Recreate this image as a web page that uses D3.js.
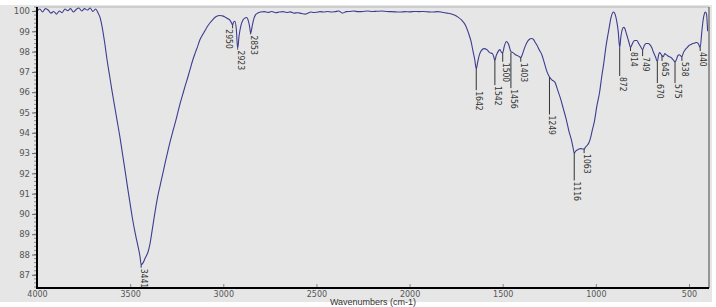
<!DOCTYPE html>
<html><head><meta charset="utf-8">
<script src="https://cdn.jsdelivr.net/npm/d3@7"></script>
<style>body{margin:0;background:#fff}svg{display:block}</style>
</head><body>
<svg id="c" width="716" height="307"></svg>
<script>
// Spectrum: wavenumber (cm-1) and %Transmittance
const wavenumbers = [4000,3985,3970,3955,3940,3925,3910,3895,3880,3865,3850,3835,3820,3805,3790,3775,3760,3745,3730,3715,3700,3685,3672,3662,3650,3636,3624,3610,3598,3585,3570,3555,3540,3525,3512,3500,3488,3474,3460,3447,3441,3430,3418,3405,3394,3380,3365,3350,3340,3325,3310,3300,3286,3270,3255,3240,3233,3220,3205,3190,3179,3165,3150,3140,3126,3110,3100,3088,3072,3056,3040,3018,3000,2990,2975,2965,2955,2950,2945,2938,2930,2923,2915,2905,2895,2885,2875,2865,2858,2853,2846,2838,2828,2815,2800,2780,2760,2740,2720,2700,2680,2660,2640,2620,2600,2580,2560,2545,2530,2515,2500,2480,2460,2440,2420,2400,2380,2360,2340,2320,2300,2275,2250,2225,2200,2175,2150,2125,2100,2075,2050,2025,2000,1975,1950,1925,1900,1875,1850,1825,1800,1780,1760,1740,1720,1700,1685,1670,1660,1650,1642,1635,1625,1615,1600,1585,1570,1555,1548,1542,1535,1525,1515,1505,1500,1492,1480,1468,1456,1445,1432,1420,1410,1403,1395,1382,1370,1358,1345,1335,1325,1315,1305,1290,1275,1262,1249,1235,1220,1205,1190,1175,1160,1145,1130,1122,1116,1108,1100,1090,1080,1070,1063,1055,1045,1038,1030,1020,1007,995,980,968,958,945,930,918,905,897,888,880,872,866,858,850,845,838,830,822,814,806,798,790,780,770,760,749,740,730,720,710,700,690,680,670,664,658,652,645,638,630,622,615,605,595,585,575,568,560,552,545,538,530,520,510,500,490,480,470,460,450,440,432,425,418,412,406,400];
const transmittance = [100.0,100.1,99.95,100.12,100.05,99.9,99.98,99.85,100.0,99.92,100.1,100.02,100.12,99.95,100.08,100.15,100.0,100.12,100.05,100.15,99.98,100.1,99.9,99.7,99.2,98.4,97.6,96.8,96.1,95.4,94.6,93.8,92.9,92.0,91.2,90.5,89.8,89.1,88.5,87.9,87.5,87.6,87.85,88.1,88.5,89.3,90.18,90.95,91.36,91.98,92.6,93.0,93.54,94.1,94.6,95.15,95.4,95.82,96.3,96.75,97.1,97.55,97.95,98.2,98.57,98.85,99.0,99.2,99.41,99.58,99.72,99.78,99.75,99.7,99.62,99.55,99.4,99.3,99.45,99.5,99.1,98.15,98.8,99.3,99.55,99.65,99.68,99.5,99.2,98.9,99.2,99.55,99.8,99.9,99.95,99.97,99.93,99.98,99.92,99.95,99.97,99.93,99.96,99.9,99.92,99.88,99.85,99.9,99.95,99.93,99.94,99.97,99.95,99.98,99.95,99.97,100.0,99.9,99.97,99.98,100.0,99.97,99.98,100.0,99.98,99.99,100.0,99.98,99.97,99.96,99.95,99.97,99.96,99.98,99.97,99.98,99.96,99.95,99.97,99.94,99.9,99.87,99.8,99.7,99.55,99.3,98.95,98.5,98.05,97.6,97.15,97.45,97.85,98.05,98.15,98.1,97.95,97.9,97.75,97.55,97.8,98.0,98.1,97.95,97.95,98.25,98.5,98.35,98.0,97.95,97.85,97.8,97.75,97.7,97.85,98.2,98.45,98.6,98.65,98.6,98.45,98.3,98.1,97.85,97.4,97.0,96.75,96.6,96.5,96.1,95.7,95.2,94.7,94.1,93.6,93.25,93.0,93.1,93.15,93.2,93.22,93.2,93.2,93.3,93.4,93.5,93.7,94.1,94.6,95.3,96.0,96.8,97.4,98.3,99.1,99.7,99.95,99.85,99.5,99.0,98.2,98.7,99.1,99.2,99.15,98.95,98.7,98.45,98.2,98.35,98.5,98.55,98.55,98.4,98.25,98.1,98.3,98.4,98.4,98.35,98.2,97.95,97.75,97.5,97.8,97.95,97.9,97.8,97.75,97.9,97.85,97.8,97.75,97.7,97.6,97.5,97.6,97.8,97.85,97.8,97.75,97.95,98.1,98.2,98.3,98.35,98.4,98.42,98.45,98.4,98.2,98.9,99.5,99.85,99.95,99.85,99.0];

// Peak labels
const peakWavenumbers = [3441,2950,2923,2853,1642,1542,1500,1456,1403,1249,1116,1063,872,814,749,670,645,575,538,440];
const peakValues      = [87.5,99.3,98.15,98.9,97.15,97.55,97.95,97.95,97.7,96.75,93.0,93.2,98.2,98.2,98.1,97.5,97.8,97.5,97.75,98.2];
const peakLabelEnds   = [87.35,99.15,98.1,98.85,96.1,96.35,97.5,96.2,97.5,94.9,91.65,93.0,96.8,98.03,97.78,96.45,97.54,96.45,97.54,98.03];

const xTicks = [4000,3500,3000,2500,2000,1500,1000,500];
const yTicks = [87,88,89,90,91,92,93,94,95,96,97,98,99,100];
const xTitle = "Wavenumbers (cm-1)";

const svg = d3.select("#c");
const L = 37, R = 708, T = 7, B = 288;
const x = d3.scaleLinear().domain([4000, 398]).range([L, R]);
const y = d3.scaleLinear().domain([86.35, 100.2]).range([B, T]);

svg.append("rect").attr("x",0).attr("y",0).attr("width",716).attr("height",307).attr("fill","#fff");
svg.append("rect").attr("x",0).attr("y",5).attr("width",712).attr("height",297).attr("fill","#e6e6e6");

svg.append("defs").append("clipPath").attr("id","pc")
  .append("rect").attr("x",L).attr("y",T).attr("width",R-L).attr("height",B-T);

// frame top & right
svg.append("line").attr("x1",L).attr("x2",R+1).attr("y1",T).attr("y2",T).attr("stroke","#b5b5b5").attr("stroke-width",1);
svg.append("line").attr("x1",R+1).attr("x2",R+1).attr("y1",T).attr("y2",B).attr("stroke","#444").attr("stroke-width",1);

// y axis
const yMinor = d3.range(86.4, 100.21, 0.2).map(v=>+v.toFixed(1));
svg.append("g").selectAll("line").data(yMinor).join("line")
  .attr("x1",L-3).attr("x2",L).attr("y1",d=>y(d)).attr("y2",d=>y(d))
  .attr("stroke","#777").attr("stroke-width",0.8);
const yAxis = d3.axisLeft(y).tickValues(yTicks).tickSize(5).tickPadding(2).tickFormat(d3.format("d"));
const gy = svg.append("g").attr("transform",`translate(${L},0)`).call(yAxis);
gy.select(".domain").remove();
gy.selectAll(".tick line").attr("stroke","#666");
gy.selectAll(".tick text").attr("fill","#555").style("font-family","DejaVu Sans").style("font-size","8.5px");

// x axis
const xAxis = d3.axisBottom(x).tickValues(xTicks).tickSize(-4).tickPadding(3).tickFormat(d3.format("d"));
const gx = svg.append("g").attr("transform",`translate(0,${B})`).call(xAxis);
gx.select(".domain").remove();
gx.selectAll(".tick line").attr("stroke","#888");
gx.selectAll(".tick text").attr("fill","#555").attr("dy",null)
  .attr("y",8.5).style("font-family","DejaVu Sans").style("font-size","8px");

svg.append("text").attr("x",373).attr("y",305).attr("text-anchor","middle")
  .attr("fill","#333").style("font-family","Liberation Sans").style("font-size","9px").text(xTitle);

// curve
const pts = wavenumbers.map((w,i)=>[w, transmittance[i]]);
svg.append("path").datum(pts).attr("clip-path","url(#pc)")
  .attr("fill","none").attr("stroke","#3d3d8f").attr("stroke-width",1.1).attr("stroke-linejoin","round")
  .attr("d", d3.line().x(d=>x(d[0])).y(d=>y(d[1])).curve(d3.curveMonotoneX));

// axis lines (thick)
svg.append("line").attr("x1",L).attr("x2",L).attr("y1",T).attr("y2",B+1).attr("stroke","#000").attr("stroke-width",2);
svg.append("line").attr("x1",L).attr("x2",R+1).attr("y1",B).attr("y2",B).attr("stroke","#000").attr("stroke-width",2);

// peak markers
const pk = svg.append("g");
peakWavenumbers.forEach((w,i)=>{
  const px = x(w);
  // if the next peak is very close on the right and its label sits lower, put this label left of its line
  const crowded = i < peakWavenumbers.length-1 && (x(peakWavenumbers[i+1]) - px) < 6
                  && peakLabelEnds[i] > peakLabelEnds[i+1];
  const tx = crowded ? px - 7 : px;
  pk.append("line").attr("x1",px).attr("x2",px).attr("y1",y(peakValues[i])).attr("y2",y(peakLabelEnds[i]))
    .attr("stroke","#333").attr("stroke-width",1);
  pk.append("text").attr("transform",`translate(${tx},${y(peakLabelEnds[i])+1}) rotate(90)`)
    .attr("text-anchor","start").attr("fill","#333")
    .style("font-family","Liberation Sans Narrow, DejaVu Sans Condensed, sans-serif").style("font-size","8.5px")
    .text(w);
});
</script>
</body></html>
